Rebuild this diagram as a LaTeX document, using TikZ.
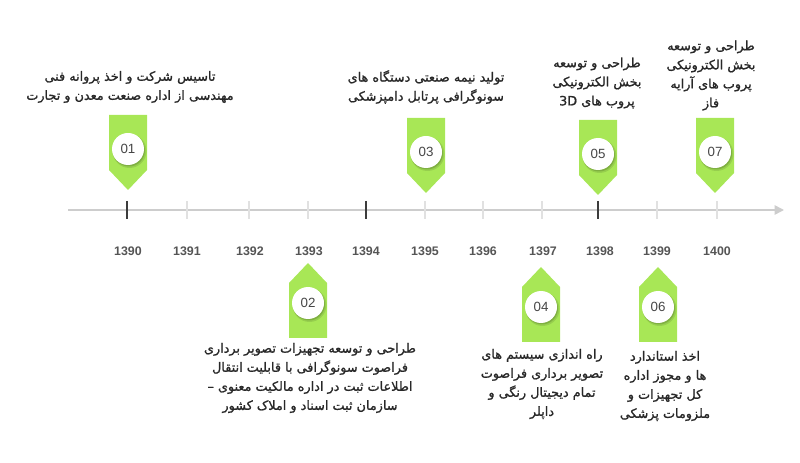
\documentclass[tikz,border=0pt]{standalone}
\usepackage{fontspec}
\setmainfont{Liberation Sans}
\newfontfamily\fa[Script=Arabic, FakeBold=1.2]{DejaVu Sans}
\TeXXeTstate=1
\usetikzlibrary{arrows.meta}
\definecolor{mkgreen}{RGB}{168,231,86}
\definecolor{axisgray}{RGB}{205,205,205}
\definecolor{minorgray}{RGB}{225,225,225}
\definecolor{majorgray}{RGB}{60,60,60}
\definecolor{yeargray}{RGB}{85,85,85}
\definecolor{numgray}{RGB}{70,70,70}
\definecolor{txtgray}{RGB}{40,40,40}
\tikzset{
  mk/.style={fill=mkgreen, draw=none},
  badge/.style={circle, fill=white, minimum size=24pt, inner sep=0pt, font=\fontsize{10}{12}\selectfont, text=numgray},
  yearlbl/.style={font=\bfseries\fontsize{9.3}{11}\selectfont, text=yeargray},
  fatext/.style={align=center, text=txtgray, font=\fa\fontsize{9.6}{14.3}\selectfont, inner sep=0pt},
}
\newcommand{\downmark}[4]{% x, top y, name, number  (pointing down)
  \fill[mk] (#1-19,#2) -- (#1+19,#2) -- (#1+19,#2+55) -- (#1,#2+75) -- (#1-19,#2+55) -- cycle;
  \fill[black, opacity=0.10] (#1+1.5,#2+36) circle (17);
  \fill[black, opacity=0.15] (#1+1,#2+35.5) circle (16);
  \node[badge] (#3) at (#1,#2+34) {#4};
}
\newcommand{\upmark}[4]{% x, tip y, name, number (pointing up)
  \fill[mk] (#1,#2) -- (#1+19,#2+20) -- (#1+19,#2+75) -- (#1-19,#2+75) -- (#1-19,#2+20) -- cycle;
  \fill[black, opacity=0.10] (#1+1.5,#2+42) circle (17);
  \fill[black, opacity=0.15] (#1+1,#2+41.5) circle (16);
  \node[badge] (#3) at (#1,#2+40) {#4};
}
\begin{document}
\begin{tikzpicture}[x=0.75pt,y=-0.75pt]
\useasboundingbox (0,0) rectangle (800,463);
% axis
\coordinate (axs) at (68,210);
\coordinate (axe) at (784,210);
\draw[axisgray, line width=1.1pt, -{Triangle[length=7pt,width=7pt]}] (axs) -- (axe);
% ticks and years
\foreach \xx/\yy in {187/1391,249/1392,308/1393,425/1395,483/1396,542/1397,657/1399,717/1400}{
  \draw[minorgray, line width=0.9pt] (\xx,201) -- (\xx,219);
}
\foreach \xx/\yy in {127/1390,366/1394,598/1398}{
  \draw[majorgray, line width=1.1pt] (\xx,201) -- (\xx,219);
}
\foreach \xx/\yy in {128/1390,187/1391,250/1392,309/1393,366/1394,425/1395,483/1396,543/1397,600/1398,657/1399,717/1400}{
  \node[yearlbl] (y\yy) at (\xx,251) {\yy};
}
% markers above
\downmark{128}{115}{m01}{01}
\downmark{426}{118}{m03}{03}
\downmark{598}{120}{m05}{05}
\downmark{715}{118}{m07}{07}
% markers below
\upmark{308}{263}{m02}{02}
\upmark{541}{267}{m04}{04}
\upmark{658}{267}{m06}{06}
% texts
\node[fatext] (t01) at (130,87) {\beginR تاسیس شرکت و اخذ پروانه فنی\endR\\ \beginR مهندسی از اداره صنعت معدن و تجارت\endR};
\node[fatext] (t03) at (426,87) {\beginR تولید نیمه صنعتی دستگاه های\endR\\ \beginR سونوگرافی پرتابل دامپزشکی\endR};
\node[fatext] (t05) at (597,83) {\beginR طراحی و توسعه\endR\\ \beginR بخش الکترونیکی\endR\\ \beginR پروب های \beginL 3D\endL\endR};
\node[fatext] (t07) at (711,75.5) {\beginR طراحی و توسعه\endR\\ \beginR بخش الکترونیکی\endR\\ \beginR پروب های آرایه\endR\\ \beginR فاز\endR};
\node[fatext] (t02) at (310,378) {\beginR طراحی و توسعه تجهیزات تصویر برداری\endR\\ \beginR فراصوت سونوگرافی با قابلیت انتقال\endR\\ \beginR اطلاعات ثبت در اداره مالکیت معنوی –\endR\\ \beginR سازمان ثبت اسناد و املاک کشور\endR};
\node[fatext] (t04) at (542,384) {\beginR راه اندازی سیستم های\endR\\ \beginR تصویر برداری فراصوت\endR\\ \beginR تمام دیجیتال رنگی و\endR\\ \beginR داپلر\endR};
\node[fatext] (t06) at (665,386) {\beginR اخذ استاندارد\endR\\ \beginR ها و مجوز اداره\endR\\ \beginR کل تجهیزات و\endR\\ \beginR ملزومات پزشکی\endR};
\end{tikzpicture}
\end{document}
